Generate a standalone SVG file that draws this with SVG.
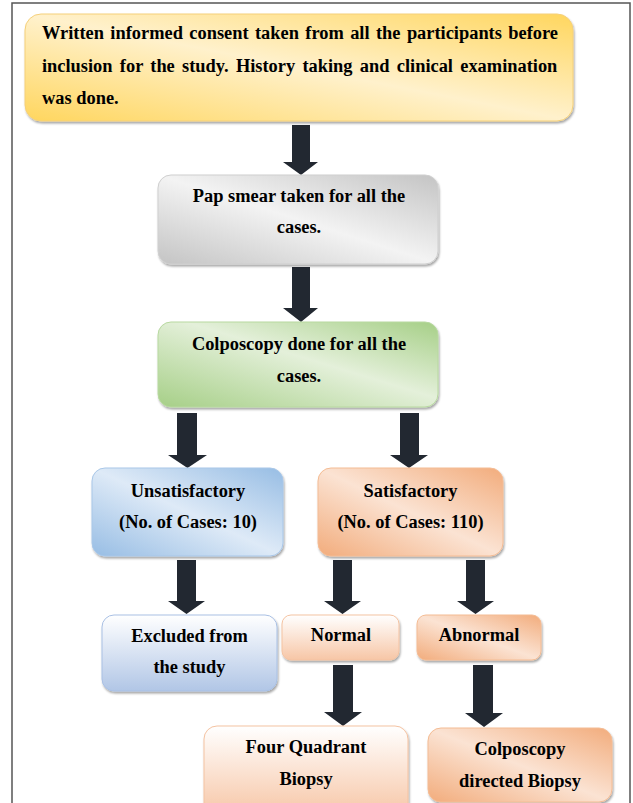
<svg xmlns="http://www.w3.org/2000/svg" width="633" height="803" viewBox="0 0 633 803">
<defs>
<filter id="sh" x="-10%" y="-10%" width="120%" height="130%">
<feDropShadow dx="1" dy="2" stdDeviation="1.2" flood-color="#000" flood-opacity="0.35"/>
</filter>
<linearGradient id="gYel" x1="0" y1="1" x2="1" y2="0"><stop offset="0" stop-color="#FFD65E"/><stop offset="0.5" stop-color="#FFF1CC"/><stop offset="1" stop-color="#FFD65E"/></linearGradient>
<linearGradient id="gGray" x1="0" y1="1" x2="1" y2="0"><stop offset="0" stop-color="#C4C4C4"/><stop offset="0.5" stop-color="#F3F3F3"/><stop offset="1" stop-color="#C4C4C4"/></linearGradient>
<linearGradient id="gGreen" x1="0" y1="1" x2="1" y2="0"><stop offset="0" stop-color="#A6CF87"/><stop offset="0.55" stop-color="#E4F0DA"/><stop offset="1" stop-color="#A6CF87"/></linearGradient>
<linearGradient id="gBlue" x1="0" y1="1" x2="1" y2="0"><stop offset="0" stop-color="#97BDE4"/><stop offset="0.5" stop-color="#DEEAF7"/><stop offset="1" stop-color="#97BDE4"/></linearGradient>
<linearGradient id="gOrg" x1="0" y1="1" x2="1" y2="0"><stop offset="0" stop-color="#F2AC7C"/><stop offset="0.5" stop-color="#FBE3D3"/><stop offset="1" stop-color="#F2AC7C"/></linearGradient>
<linearGradient id="gBlueV" x1="0" y1="0" x2="0" y2="1"><stop offset="0" stop-color="#FFFFFF"/><stop offset="1" stop-color="#B1C6E6"/></linearGradient>
<linearGradient id="gOrgV" x1="0" y1="0" x2="0" y2="1"><stop offset="0" stop-color="#FFFFFF"/><stop offset="1" stop-color="#F7C6A6"/></linearGradient>
<style>
.t{font-family:"Liberation Serif","Times New Roman",serif;font-weight:bold;font-size:18.4px;fill:#000}
.c{text-anchor:middle}
.box{filter:url(#sh)}
.arr{fill:#222831}
</style>
</defs>
<rect x="12" y="3" width="618" height="820" fill="#fff" stroke="#555" stroke-width="1.5"/>

<g id="connectors">
<path class="arr" d="M292 125H310V162H318L301 175L283 162H292Z"/>
<path class="arr" d="M292 267H310V308H318L301 322L283 308H292Z"/>
<path class="arr" d="M177 413H197V455H207L187.5 468L168 455H177Z"/>
<path class="arr" d="M400 413H419V455H428L409 468L390 455H400Z"/>
<path class="arr" d="M177 560H196V601H205L186.5 614L168 601H177Z"/>
<path class="arr" d="M333 560H352V601H361L342.5 614L324 601H333Z"/>
<path class="arr" d="M466 560H485V601H494L475.5 614L457 601H466Z"/>
<path class="arr" d="M333 665H353V712H362L343 726L324 712H333Z"/>
<path class="arr" d="M473 665H493V713H503L484 727L465 713H473Z"/>
</g>

<g id="consent">
<rect class="box" x="25" y="14" width="548" height="107" rx="16" fill="url(#gYel)" stroke="#F5D07A" stroke-width="1"/>
<text class="t" x="42" y="39" word-spacing="1.8">Written informed consent taken from all the participants before</text>
<text class="t" x="42" y="72" word-spacing="2.7">inclusion for the study. History taking and clinical examination</text>
<text class="t" x="42" y="104">was done.</text>
</g>

<g id="pap">
<rect class="box" x="158" y="175" width="280" height="89" rx="13" fill="url(#gGray)" stroke="#CFCFCF" stroke-width="1"/>
<text class="t c" x="299" y="202">Pap smear taken for all the</text>
<text class="t c" x="299" y="233">cases.</text>
</g>

<g id="colposcopy">
<rect class="box" x="158" y="322" width="280" height="85" rx="13" fill="url(#gGreen)" stroke="#B8D9A0" stroke-width="1"/>
<text class="t c" x="299" y="350">Colposcopy done for all the</text>
<text class="t c" x="299" y="382">cases.</text>
</g>

<g id="unsatisfactory">
<rect class="box" x="92" y="468" width="191" height="88" rx="13" fill="url(#gBlue)" stroke="#A9C7E8" stroke-width="1"/>
<text class="t c" x="188" y="497">Unsatisfactory</text>
<text class="t c" x="188" y="528">(No. of Cases: 10)</text>
</g>

<g id="satisfactory">
<rect class="box" x="318" y="468" width="185" height="88" rx="13" fill="url(#gOrg)" stroke="#F4BC94" stroke-width="1"/>
<text class="t c" x="410.5" y="497">Satisfactory</text>
<text class="t c" x="410.5" y="528">(No. of Cases: 110)</text>
</g>

<g id="excluded">
<rect class="box" x="102" y="615" width="175" height="76" rx="12" fill="url(#gBlueV)" stroke="#A9C0E4" stroke-width="1"/>
<text class="t c" x="189.5" y="642">Excluded from</text>
<text class="t c" x="189.5" y="673">the study</text>
</g>

<g id="normal">
<rect class="box" x="282" y="615" width="117" height="45" rx="9" fill="url(#gOrgV)" stroke="#F4C3A2" stroke-width="1"/>
<text class="t c" x="341" y="641">Normal</text>
</g>

<g id="abnormal">
<rect class="box" x="417" y="615" width="124" height="45" rx="9" fill="url(#gOrg)" stroke="#F4BC94" stroke-width="1"/>
<text class="t c" x="479" y="641">Abnormal</text>
</g>

<g id="four-quadrant">
<rect class="box" x="204" y="726" width="204" height="90" rx="13" fill="url(#gOrgV)" stroke="#F4C3A2" stroke-width="1"/>
<text class="t c" x="306" y="753">Four Quadrant</text>
<text class="t c" x="306" y="785">Biopsy</text>
</g>

<g id="directed-biopsy">
<rect class="box" x="428" y="728" width="184" height="74" rx="13" fill="url(#gOrg)" stroke="#F4BC94" stroke-width="1"/>
<text class="t c" x="520" y="755">Colposcopy</text>
<text class="t c" x="520" y="787">directed Biopsy</text>
</g>
</svg>
